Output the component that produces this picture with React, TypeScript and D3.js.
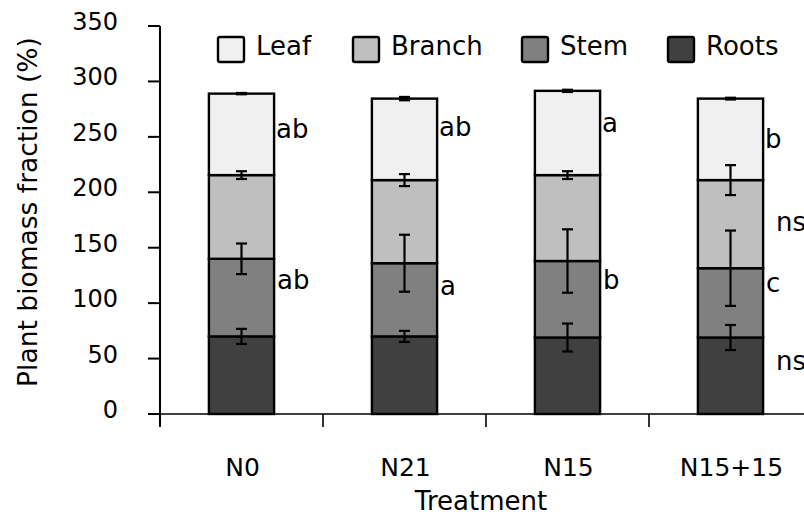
import React from "react";
import * as d3 from "d3";

const treatments = ["N0", "N21", "N15", "N15+15"];
const parts = ["Roots", "Stem", "Branch", "Leaf"];
const legendOrder = ["Leaf", "Branch", "Stem", "Roots"];

const roots = [70, 70, 69, 69];
const stem = [70, 66, 69, 62.5];
const branch = [75.5, 75, 77.5, 79.5];
const leaf = [73.5, 73.5, 76, 73.5];

const rootsErr = [6.8, 5, 12.6, 11.3];
const stemErr = [13.8, 25.7, 28.6, 34];
const branchErr = [3.5, 5.4, 3.5, 13.5];
const leafErr = [0.6, 1.5, 1, 0.8];

const yTicks = [0, 50, 100, 150, 200, 250, 300, 350];

// significance letters and their anchor value (data units)
const leafLetters = ["ab", "ab", "a", "b"];
const leafLetterAt = [249, 251, 254.5, 240];
const stemLetters = ["ab", "a", "b", "c"];
const stemLetterAt = [112.5, 107.3, 112.8, 110.3];
const extraLetters = ["ns", "ns"];
const extraLetterAt = [165, 39.7];

const colors: Record<string, string> = {
  Leaf: "#f0f0f0",
  Branch: "#bfbfbf",
  Stem: "#808080",
  Roots: "#404040",
};

const FONT = "DejaVu Sans";

export default function App() {
  const W = 804;
  const H = 516;
  const x0 = 160;
  const step = 163;
  const x = d3
    .scaleBand<string>()
    .domain(treatments)
    .range([x0, x0 + step * treatments.length])
    .paddingInner(0.6)
    .paddingOuter(0.3);
  const y = d3.scaleLinear().domain([0, 350]).range([414, 26]);

  const table = treatments.map((t, i) => ({
    t,
    Roots: roots[i],
    Stem: stem[i],
    Branch: branch[i],
    Leaf: leaf[i],
  }));
  const errs: Record<string, number[]> = {
    Roots: rootsErr,
    Stem: stemErr,
    Branch: branchErr,
    Leaf: leafErr,
  };
  const stacked = d3.stack<any>().keys(parts)(table);
  const bw = x.bandwidth();

  const legendX = [218, 353, 522, 668];

  return (
    <svg width={W} height={H} style={{ position: "absolute", left: 0, top: 0, background: "#fff" }}>
      <rect x={0} y={0} width={W} height={H} fill="#fff" />
      {/* bars */}
      {stacked.map((layer) => (
        <g key={layer.key}>
          {layer.map((d, i) => (
            <rect
              key={i}
              x={x(treatments[i])}
              y={y(d[1])}
              width={bw}
              height={y(d[0]) - y(d[1])}
              fill={colors[layer.key]}
              stroke="#000"
              strokeWidth={2.4}
            />
          ))}
        </g>
      ))}
      {/* error bars */}
      {stacked.map((layer) => (
        <g key={"e" + layer.key} stroke="#000" strokeWidth={2.2}>
          {layer.map((d, i) => {
            const cx = (x(treatments[i]) as number) + bw / 2;
            const e = errs[layer.key][i];
            const y1 = y(d[1] + e);
            const y2 = y(d[1] - e);
            return (
              <g key={i}>
                <line x1={cx} x2={cx} y1={y1} y2={y2} />
                <line x1={cx - 5.5} x2={cx + 5.5} y1={y1} y2={y1} />
                <line x1={cx - 5.5} x2={cx + 5.5} y1={y2} y2={y2} />
              </g>
            );
          })}
        </g>
      ))}
      {/* axes */}
      <line x1={148} x2={W} y1={y(0)} y2={y(0)} stroke="#000" strokeWidth={1.6} />
      <line x1={x0} x2={x0} y1={y(350)} y2={y(0) + 13} stroke="#000" strokeWidth={2} />
      {yTicks.map((v) => (
        <g key={v}>
          <line x1={148} x2={x0} y1={y(v)} y2={y(v)} stroke="#000" strokeWidth={2} />
          <text
            x={118}
            y={y(v) + 4}
            textAnchor="end"
            fontFamily={FONT}
            fontSize={24}
            fill="#000"
          >
            {v}
          </text>
        </g>
      ))}
      {treatments.map((t, i) => (
        <line
          key={"t" + t}
          x1={x0 + step * (i + 1)}
          x2={x0 + step * (i + 1)}
          y1={y(0)}
          y2={y(0) + 13}
          stroke="#000"
          strokeWidth={1.6}
        />
      ))}
      {treatments.map((t) => (
        <text
          key={"l" + t}
          x={(x(t) as number) + bw / 2 + 1}
          y={476}
          textAnchor="middle"
          fontFamily={FONT}
          fontSize={25}
          fill="#000"
        >
          {t}
        </text>
      ))}
      <text x={481} y={510} textAnchor="middle" fontFamily={FONT} fontSize={26} fill="#000">
        Treatment
      </text>
      <text
        transform={`translate(37,212) rotate(-90)`}
        textAnchor="middle"
        fontFamily={FONT}
        fontSize={26.5}
        fill="#000"
      >
        Plant biomass fraction (%)
      </text>
      {/* letters */}
      {treatments.map((t, i) => (
        <g key={"sig" + t} fontFamily={FONT} fontSize={26} fill="#000">
          <text x={(x(t) as number) + bw + 2} y={y(leafLetterAt[i])}>
            {leafLetters[i]}
          </text>
          <text x={(x(t) as number) + bw + 3} y={y(stemLetterAt[i])}>
            {stemLetters[i]}
          </text>
        </g>
      ))}
      {extraLetters.map((s, i) => (
        <text
          key={"ex" + i}
          x={(x(treatments[3]) as number) + bw + 13}
          y={y(extraLetterAt[i])}
          fontFamily={FONT}
          fontSize={26}
          fill="#000"
        >
          {s}
        </text>
      ))}
      {/* legend */}
      {legendOrder.map((k, i) => (
        <g key={"lg" + k}>
          <rect
            x={legendX[i]}
            y={37}
            width={26}
            height={25}
            rx={2}
            fill={colors[k]}
            stroke="#000"
            strokeWidth={2.4}
          />
          <text x={legendX[i] + 38} y={55} fontFamily={FONT} fontSize={26} fill="#000">
            {k}
          </text>
        </g>
      ))}
    </svg>
  );
}
